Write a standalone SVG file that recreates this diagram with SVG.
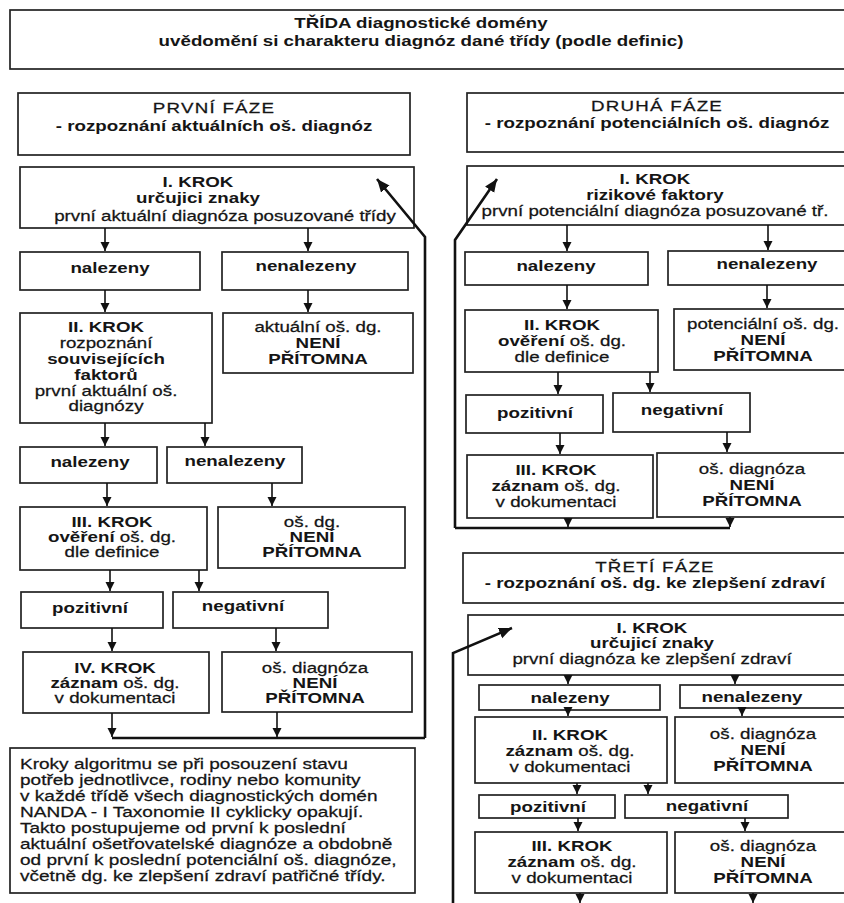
<svg xmlns="http://www.w3.org/2000/svg" width="844" height="903" viewBox="0 0 844 903">
<defs>
<marker id="ah" markerUnits="userSpaceOnUse" markerWidth="10" markerHeight="10" refX="9" refY="4.5" orient="auto"><path d="M0,0 L9,4.5 L0,9 z" fill="#111"/></marker>
<marker id="big" markerUnits="userSpaceOnUse" markerWidth="14" markerHeight="12" refX="13" refY="5.5" orient="auto"><path d="M0,0 L13,5.5 L0,11 z" fill="#111"/></marker>
</defs>
<style>
.bx{fill:#fff;stroke:#222;stroke-width:1.7}
.t{font-family:"Liberation Sans",Arial,sans-serif;font-size:15px;fill:#151515;stroke:#151515;stroke-width:0.25;text-anchor:middle}
.l{text-anchor:start}
.b{font-weight:bold;stroke-width:0}
.ar{fill:none;stroke:#111;stroke-width:1.6;marker-end:url(#ah)}
.lp{fill:none;stroke:#111;stroke-width:2.6}
.lpa{fill:none;stroke:#111;stroke-width:2.6;marker-end:url(#big)}
</style>
<rect width="844" height="903" fill="#fff"/>

<g id="header">
<rect class="bx" x="10" y="10" width="845" height="59"/>
<text class="t b" transform="translate(421 0) scale(1.25 1)"><tspan x="0" y="28">TŘÍDA diagnostické domény</tspan><tspan x="0" y="46">uvědomění si charakteru diagnóz dané třídy (podle definic)</tspan></text>
</g>

<g id="phase1">
<rect class="bx" x="18" y="93" width="392" height="62"/>
<text class="t" transform="translate(214 0) scale(1.25 1)"><tspan x="0" y="113" letter-spacing="1">PRVNÍ  FÁZE</tspan><tspan x="0" y="131" class="b">- rozpoznání aktuálních oš. diagnóz</tspan></text>
</g>

<g id="krok1L">
<rect class="bx" x="20" y="167" width="394" height="61"/>
<text class="t" transform="translate(198 0) scale(1.25 1)"><tspan x="0" y="187" class="b">I. KROK</tspan><tspan x="0" y="203" class="b">určujici znaky</tspan></text>
<text class="t" transform="translate(225 0) scale(1.25 1)"><tspan x="0" y="221">první aktuální diagnóza posuzované třídy</tspan></text>
</g>

<g id="nalL1">
<rect class="bx" x="20" y="252" width="180" height="38"/>
<text class="t b" transform="translate(110 0) scale(1.25 1)"><tspan x="0" y="273">nalezeny</tspan></text>
</g>
<g id="nenalL1">
<rect class="bx" x="222" y="252" width="186" height="38"/>
<text class="t b" transform="translate(306 0) scale(1.25 1)"><tspan x="0" y="271">nenalezeny</tspan></text>
</g>

<g id="krok2L">
<rect class="bx" x="20" y="313" width="192" height="110"/>
<text class="t" transform="translate(106 0) scale(1.25 1)"><tspan x="0" y="332" class="b">II. KROK</tspan><tspan x="0" y="348">rozpoznání</tspan><tspan x="0" y="364" class="b">souvisejících</tspan><tspan x="0" y="380" class="b">faktorů</tspan><tspan x="0" y="396">první aktuální oš.</tspan><tspan x="0" y="411">diagnózy</tspan></text>
</g>
<g id="nepritL1">
<rect class="bx" x="223" y="313" width="190" height="60"/>
<text class="t" transform="translate(318 0) scale(1.25 1)"><tspan x="0" y="332">aktuální oš.  dg.</tspan><tspan x="0" y="348" class="b">NENÍ</tspan><tspan x="0" y="364" class="b">PŘÍTOMNA</tspan></text>
</g>

<g id="nalL2">
<rect class="bx" x="20" y="447" width="137" height="36"/>
<text class="t b" transform="translate(90 0) scale(1.25 1)"><tspan x="0" y="467">nalezeny</tspan></text>
</g>
<g id="nenalL2">
<rect class="bx" x="167" y="447" width="135" height="36"/>
<text class="t b" transform="translate(235 0) scale(1.25 1)"><tspan x="0" y="466">nenalezeny</tspan></text>
</g>

<g id="krok3L">
<rect class="bx" x="20" y="507" width="187" height="63"/>
<text class="t" transform="translate(112 0) scale(1.25 1)"><tspan x="0" y="527" class="b">III. KROK</tspan><tspan x="0" y="542"><tspan class="b">ověření</tspan> oš. dg.</tspan><tspan x="0" y="557">dle definice</tspan></text>
</g>
<g id="nepritL2">
<rect class="bx" x="218" y="507" width="187" height="61"/>
<text class="t" transform="translate(312 0) scale(1.25 1)"><tspan x="0" y="527">oš. dg.</tspan><tspan x="0" y="542" class="b">NENÍ</tspan><tspan x="0" y="557" class="b">PŘÍTOMNA</tspan></text>
</g>

<g id="pozL">
<rect class="bx" x="21" y="592" width="142" height="36"/>
<text class="t b" transform="translate(90 0) scale(1.25 1)"><tspan x="0" y="613">pozitivní</tspan></text>
</g>
<g id="negL">
<rect class="bx" x="173" y="592" width="155" height="36"/>
<text class="t b" transform="translate(243 0) scale(1.25 1)"><tspan x="0" y="611">negativní</tspan></text>
</g>

<g id="krok4L">
<rect class="bx" x="23" y="652" width="186" height="61"/>
<text class="t" transform="translate(115 0) scale(1.25 1)"><tspan x="0" y="673" class="b">IV. KROK</tspan><tspan x="0" y="688"><tspan class="b">záznam</tspan> oš. dg.</tspan><tspan x="0" y="703">v dokumentaci</tspan></text>
</g>
<g id="nepritL3">
<rect class="bx" x="222" y="652" width="190" height="60"/>
<text class="t" transform="translate(315 0) scale(1.25 1)"><tspan x="0" y="673">oš. diagnóza</tspan><tspan x="0" y="688" class="b">NENÍ</tspan><tspan x="0" y="703" class="b">PŘÍTOMNA</tspan></text>
</g>

<g id="note">
<rect class="bx" x="10" y="748" width="405" height="145"/>
<text class="t l" transform="translate(20 0) scale(1.27 1)"><tspan x="0" y="769">Kroky algoritmu se při posouzení stavu</tspan><tspan x="0" y="785">potřeb jednotlivce, rodiny nebo komunity</tspan><tspan x="0" y="801">v každé třídě všech diagnostických domén</tspan><tspan x="0" y="817">NANDA - I Taxonomie II cyklicky opakují.</tspan><tspan x="0" y="833">Takto postupujeme od první k poslední</tspan><tspan x="0" y="849">aktuální ošetřovatelské diagnóze a obdobně</tspan><tspan x="0" y="865">od první k poslední potenciální oš. diagnóze,</tspan><tspan x="0" y="881">včetně dg. ke zlepšení zdraví patřičné třídy.</tspan></text>
</g>

<g id="phase2">
<rect class="bx" x="467" y="93" width="390" height="59"/>
<text class="t" transform="translate(657 0) scale(1.25 1)"><tspan x="0" y="111" letter-spacing="1">DRUHÁ  FÁZE</tspan><tspan x="0" y="128" class="b">- rozpoznání potenciálních oš. diagnóz</tspan></text>
</g>

<g id="krok1R">
<rect class="bx" x="467" y="166" width="390" height="59"/>
<text class="t" transform="translate(655 0) scale(1.25 1)"><tspan x="0" y="184" class="b">I. KROK</tspan><tspan x="0" y="200" class="b">rizikové faktory</tspan><tspan x="0" y="216">první potenciální diagnóza posuzované tř.</tspan></text>
</g>

<g id="nalR1">
<rect class="bx" x="465" y="252" width="183" height="33"/>
<text class="t b" transform="translate(556 0) scale(1.25 1)"><tspan x="0" y="271">nalezeny</tspan></text>
</g>
<g id="nenalR1">
<rect class="bx" x="668" y="251" width="190" height="34"/>
<text class="t b" transform="translate(767 0) scale(1.25 1)"><tspan x="0" y="269">nenalezeny</tspan></text>
</g>

<g id="krok2R">
<rect class="bx" x="465" y="310" width="193" height="62"/>
<text class="t" transform="translate(562 0) scale(1.25 1)"><tspan x="0" y="330" class="b">II. KROK</tspan><tspan x="0" y="346"><tspan class="b">ověření</tspan> oš. dg.</tspan><tspan x="0" y="362">dle definice</tspan></text>
</g>
<g id="nepritR1">
<rect class="bx" x="674" y="309" width="184" height="61"/>
<text class="t" transform="translate(763 0) scale(1.25 1)"><tspan x="0" y="329">potenciální oš. dg.</tspan><tspan x="0" y="345" class="b">NENÍ</tspan><tspan x="0" y="361" class="b">PŘÍTOMNA</tspan></text>
</g>

<g id="pozR">
<rect class="bx" x="466" y="395" width="137" height="38"/>
<text class="t b" transform="translate(535 0) scale(1.25 1)"><tspan x="0" y="418">pozitivní</tspan></text>
</g>
<g id="negR">
<rect class="bx" x="613" y="393" width="137" height="39"/>
<text class="t b" transform="translate(682 0) scale(1.25 1)"><tspan x="0" y="415">negativní</tspan></text>
</g>

<g id="krok3R">
<rect class="bx" x="467" y="455" width="186" height="63"/>
<text class="t" transform="translate(556 0) scale(1.25 1)"><tspan x="0" y="475" class="b">III. KROK</tspan><tspan x="0" y="491"><tspan class="b">záznam</tspan> oš. dg.</tspan><tspan x="0" y="507">v dokumentaci</tspan></text>
</g>
<g id="nepritR2">
<rect class="bx" x="657" y="453" width="200" height="64"/>
<text class="t" transform="translate(752 0) scale(1.25 1)"><tspan x="0" y="474">oš. diagnóza</tspan><tspan x="0" y="490" class="b">NENÍ</tspan><tspan x="0" y="506" class="b">PŘÍTOMNA</tspan></text>
</g>

<g id="phase3">
<rect class="bx" x="463" y="553" width="394" height="50"/>
<text class="t" transform="translate(655 0) scale(1.25 1)"><tspan x="0" y="572" letter-spacing="1">TŘETÍ  FÁZE</tspan><tspan x="0" y="588" class="b">- rozpoznání oš. dg. ke zlepšení zdraví</tspan></text>
</g>

<g id="krok1R3">
<rect class="bx" x="468" y="615" width="389" height="60"/>
<text class="t" transform="translate(652 0) scale(1.25 1)"><tspan x="0" y="633" class="b">I. KROK</tspan><tspan x="0" y="648" class="b">určujicí znaky</tspan><tspan x="0" y="664">první diagnóza ke zlepšení zdraví</tspan></text>
</g>

<g id="nalR3">
<rect class="bx" x="479" y="685" width="181" height="25"/>
<text class="t b" transform="translate(570 0) scale(1.25 1)"><tspan x="0" y="703">nalezeny</tspan></text>
</g>
<g id="nenalR3">
<rect class="bx" x="680" y="685" width="178" height="23"/>
<text class="t b" transform="translate(752 0) scale(1.25 1)"><tspan x="0" y="702">nenalezeny</tspan></text>
</g>

<g id="krok2R3">
<rect class="bx" x="475" y="717" width="192" height="66"/>
<text class="t" transform="translate(570 0) scale(1.25 1)"><tspan x="0" y="740" class="b">II. KROK</tspan><tspan x="0" y="756"><tspan class="b">záznam</tspan> oš. dg.</tspan><tspan x="0" y="772">v dokumentaci</tspan></text>
</g>
<g id="nepritR3">
<rect class="bx" x="675" y="717" width="183" height="66"/>
<text class="t" transform="translate(763 0) scale(1.25 1)"><tspan x="0" y="739">oš. diagnóza</tspan><tspan x="0" y="755" class="b">NENÍ</tspan><tspan x="0" y="771" class="b">PŘÍTOMNA</tspan></text>
</g>

<g id="pozR3">
<rect class="bx" x="479" y="795" width="136" height="23"/>
<text class="t b" transform="translate(548 0) scale(1.25 1)"><tspan x="0" y="812">pozitivní</tspan></text>
</g>
<g id="negR3">
<rect class="bx" x="625" y="795" width="163" height="23"/>
<text class="t b" transform="translate(707 0) scale(1.25 1)"><tspan x="0" y="811">negativní</tspan></text>
</g>

<g id="krok3R3">
<rect class="bx" x="475" y="832" width="192" height="61"/>
<text class="t" transform="translate(572 0) scale(1.25 1)"><tspan x="0" y="851" class="b">III. KROK</tspan><tspan x="0" y="867"><tspan class="b">záznam</tspan> oš. dg.</tspan><tspan x="0" y="883">v dokumentaci</tspan></text>
</g>
<g id="nepritR3b">
<rect class="bx" x="675" y="832" width="183" height="61"/>
<text class="t" transform="translate(763 0) scale(1.25 1)"><tspan x="0" y="851">oš. diagnóza</tspan><tspan x="0" y="867" class="b">NENÍ</tspan><tspan x="0" y="883" class="b">PŘÍTOMNA</tspan></text>
</g>

<g id="connectors">
<path class="ar" d="M105,228 V251"/>
<path class="ar" d="M308,228 V251"/>
<path class="ar" d="M105,290 V312"/>
<path class="ar" d="M308,290 V312"/>
<path class="ar" d="M105,423 V446"/>
<path class="ar" d="M205,423 V446"/>
<path class="ar" d="M107,483 V506"/>
<path class="ar" d="M272,483 V506"/>
<path class="ar" d="M110,570 V591"/>
<path class="ar" d="M199,570 V591"/>
<path class="ar" d="M112,628 V651"/>
<path class="ar" d="M276,628 V651"/>
<path class="ar" d="M112,713 V737"/>
<path class="ar" d="M277,712 V737"/>
<path class="lp" d="M112,738 H425"/>
<path class="lpa" d="M425,738 V237 L377,179"/>

<path class="ar" d="M567,225 V251"/>
<path class="ar" d="M768,225 V250"/>
<path class="ar" d="M567,285 V309"/>
<path class="ar" d="M767,285 V308"/>
<path class="ar" d="M558,372 V394"/>
<path class="ar" d="M650,372 V392"/>
<path class="ar" d="M560,433 V454"/>
<path class="ar" d="M727,432 V452"/>
<path class="ar" d="M568,518 V527"/>
<path class="ar" d="M730,517 V527"/>
<path class="lp" d="M730,528 H455"/>
<path class="lpa" d="M455,528 V240 L497,179"/>

<path class="ar" d="M568,675 V684"/>
<path class="ar" d="M735,675 V684"/>
<path class="ar" d="M568,710 V716"/>
<path class="ar" d="M742,708 V716"/>
<path class="ar" d="M577,783 V794"/>
<path class="ar" d="M648,783 V794"/>
<path class="ar" d="M578,818 V831"/>
<path class="ar" d="M745,818 V831"/>
<path class="ar" d="M580,893 V903"/>
<path class="ar" d="M753,893 V903"/>
<path class="lpa" d="M453,903 V653 L512,628"/>
</g>
</svg>
